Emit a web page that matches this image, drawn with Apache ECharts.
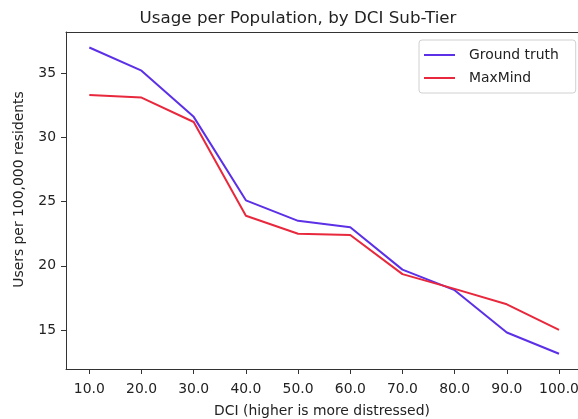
<!DOCTYPE html>
<html>
<head>
<meta charset="utf-8">
<script src="https://cdn.jsdelivr.net/npm/echarts@6/dist/echarts.min.js"></script>
<style>
html,body{margin:0;padding:0;background:#fff;}
#c{width:578px;height:419px;}
</style>
</head>
<body>
<div id="c"></div>
<script>
var dci = [10, 20, 30, 40, 50, 60, 70, 80, 90, 100];
var groundTruth = [37.0, 35.2, 31.6, 25.1, 23.5, 23.0, 19.7, 18.1, 14.8, 13.15];
var maxMind = [33.3, 33.1, 31.2, 23.9, 22.5, 22.4, 19.35, 18.2, 17.0, 15.0];
var xTicks = [10, 20, 30, 40, 50, 60, 70, 80, 90, 100];
var yTicks = [15, 20, 25, 30, 35];

function pairs(xs, ys) { return xs.map(function (x, i) { return [x, ys[i]]; }); }

var font = 'DejaVu Sans';
var chart = echarts.init(document.getElementById('c'), null, {renderer: 'canvas'});
chart.setOption({
  animation: false,
  backgroundColor: '#fff',
  title: {
    text: 'Usage per Population, by DCI Sub-Tier',
    left: 293, top: 5, textAlign: 'center',
    textStyle: {fontFamily: font, fontSize: 16.7, fontWeight: 'normal', color: '#222'}
  },
  legend: {
    orient: 'vertical',
    left: 419, top: 40,
    backgroundColor: '#fff',
    borderColor: '#d0d0d0', borderWidth: 1, borderRadius: 3,
    padding: [7, 17, 7, 5],
    itemWidth: 31, itemHeight: 2, itemGap: 7,
    icon: 'rect',
    textStyle: {fontFamily: font, fontSize: 13.9, color: '#222', padding: [0, 0, 0, 9], lineHeight: 16},
    data: ['Ground truth', 'MaxMind']
  },
  grid: {left: 66, top: 32, right: 0, bottom: 50, show: false,
    containLabel: false, outerBoundsMode: 'none'},
  xAxis: [{
    type: 'value', min: 5.53, max: 103.64,
    name: 'DCI (higher is more distressed)', nameLocation: 'middle', nameGap: 35,
    nameTextStyle: {fontFamily: font, fontSize: 13.9, color: '#222'},
    axisLine: {show: true, onZero: false, lineStyle: {color: '#333', width: 1}},
    axisTick: {show: true, length: 5, customValues: xTicks, lineStyle: {color: '#333'}},
    axisLabel: {customValues: xTicks, fontFamily: font, fontSize: 13.9, color: '#222', margin: 13,
      formatter: function (v) { return v.toFixed(1); }},
    splitLine: {show: false}
  }, {
    type: 'value', position: 'top', min: 5.53, max: 103.64,
    axisLine: {show: true, onZero: false, lineStyle: {color: '#333', width: 1}},
    axisTick: {show: false}, axisLabel: {show: false}, splitLine: {show: false}
  }],
  yAxis: {
    type: 'value', min: 11.96, max: 38.21,
    name: 'Users per 100,000 residents', nameLocation: 'middle', nameGap: 40, nameRotate: 90,
    nameTextStyle: {fontFamily: font, fontSize: 13.9, color: '#222', padding: [0, 0, 0, 22]},
    axisLine: {show: true, onZero: false, lineStyle: {color: '#333', width: 1}},
    axisTick: {show: true, length: 5, customValues: yTicks, lineStyle: {color: '#333'}},
    axisLabel: {customValues: yTicks, fontFamily: font, fontSize: 13.9, color: '#222', margin: 10},
    splitLine: {show: false}
  },
  series: [
    {name: 'Ground truth', type: 'line', data: pairs(dci, groundTruth), showSymbol: false,
      lineStyle: {color: '#5b30e6', width: 2}, itemStyle: {color: '#5b30e6'}},
    {name: 'MaxMind', type: 'line', data: pairs(dci, maxMind), showSymbol: false,
      lineStyle: {color: '#e8283c', width: 2}, itemStyle: {color: '#e8283c'}}
  ]
});
</script>
</body>
</html>
